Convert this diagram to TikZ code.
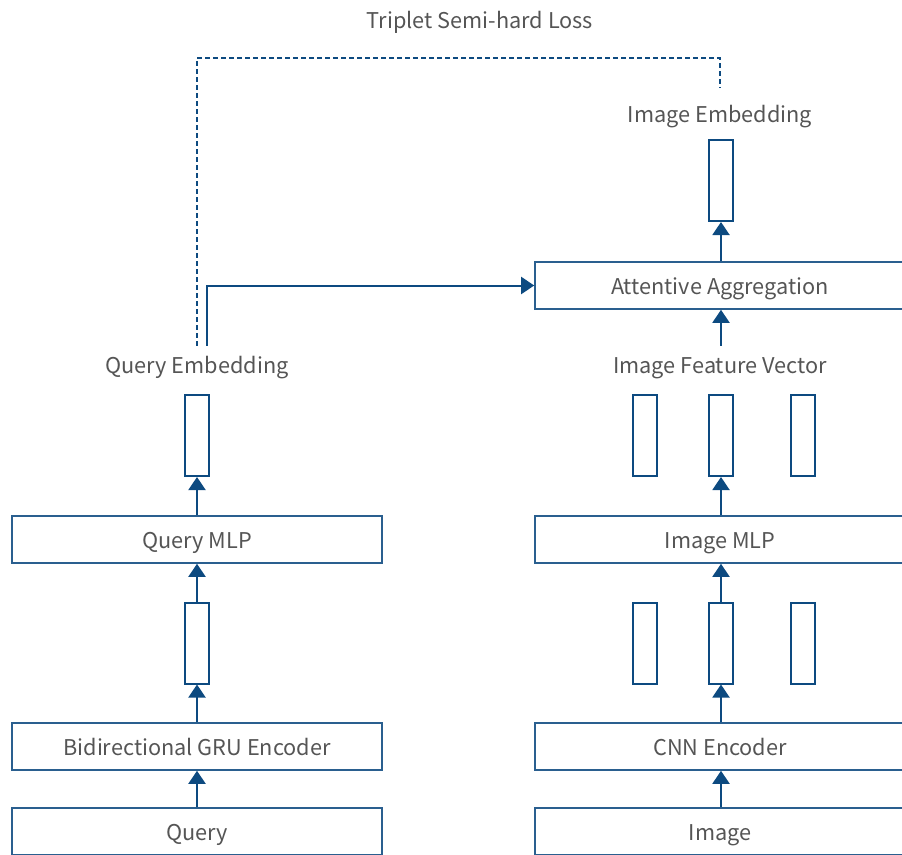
\documentclass[tikz,border=0pt]{standalone}
\usepackage{fontspec}
\setmainfont{Noto Sans CJK KR}
\usetikzlibrary{arrows.meta}
\definecolor{navy}{HTML}{0D4A80}
\definecolor{boxline}{HTML}{2A5F8F}
\definecolor{txt}{HTML}{555555}
\tikzset{
  every node/.style={text=txt, font=\fontsize{21.7}{24}\selectfont, text height=17pt, text depth=0pt},
  block/.style={draw=boxline, line width=1.6pt, minimum width=370pt, minimum height=47pt, inner sep=0pt},
  vec/.style={draw=navy, line width=2pt, minimum width=24pt, minimum height=81pt, inner sep=0pt},
  lbl/.style={inner sep=0pt, minimum height=38pt},
  arr/.style={draw=navy, line width=2pt, -{Triangle[width=17pt,length=13pt]}},
  loss/.style={draw=navy, line width=1.6pt, dash pattern=on 5pt off 3pt}
}
\begin{document}
\begin{tikzpicture}[x=1pt, y=-1pt]
\clip (0,0) rectangle (902,854);

% title
\node (title) at (480,20) {Triplet Semi-hard Loss};

% query branch
\node[block] (query) at (197,831.5) {Query};
\node[block] (gru) at (197,746.5) {Bidirectional GRU Encoder};
\node[vec] (qv1) at (197,643) {};
\node[block] (qmlp) at (197,539.5) {Query MLP};
\node[vec] (qv2) at (197,435.5) {};
\node[lbl] (qe) at (197,365) {Query Embedding};

% image branch
\node[block] (img) at (720,831.5) {Image};
\node[block] (cnn) at (720,746.5) {CNN Encoder};
\node[vec] (iv1a) at (645,643) {};
\node[vec] (iv1b) at (721,643) {};
\node[vec] (iv1c) at (803,643) {};
\node[block] (imlp) at (720,539.5) {Image MLP};
\node[vec] (iv2a) at (645,435.5) {};
\node[vec] (iv2b) at (721,435.5) {};
\node[vec] (iv2c) at (803,435.5) {};
\node[lbl] (ifv) at (720,365) {Image Feature Vector};
\node[block] (att) at (720,285.5) {Attentive Aggregation};
\node[vec] (iev) at (721,180.5) {};
\node[inner sep=0pt, minimum height=52pt] (ie) at (720,114) {Image Embedding};

% query flow
\draw[arr] (query.north) -- (gru.south);
\draw[arr] (gru.north) -- (qv1.south);
\draw[arr] (qv1.north) -- (qmlp.south);
\draw[arr] (qmlp.north) -- (qv2.south);

% image flow
\draw[arr] (iv1b |- img.north) -- (iv1b |- cnn.south);
\draw[arr] (iv1b |- cnn.north) -- (iv1b.south);
\draw[arr] (iv1b.north) -- (iv1b |- imlp.south);
\draw[arr] (iv1b |- imlp.north) -- (iv2b.south);
\draw[arr] (iv2b |- ifv.north) -- (iv2b |- att.south);
\draw[arr] (iev |- att.north) -- (iev.south);

% query embedding feeds the attention
\draw[arr] ([xshift=10pt]qe.north) |- (att.west);

% loss between the two embeddings
\coordinate (lossL) at (197,58);
\coordinate (lossR) at (720,58);
\draw[loss] (qe.north) -- (lossL) -- (lossR) -- (ie.north);
\end{tikzpicture}
\end{document}
